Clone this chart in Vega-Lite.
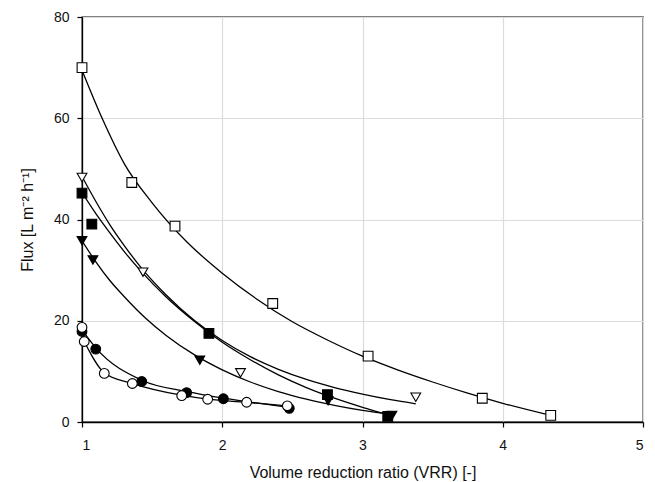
{
  "$schema": "https://vega.github.io/schema/vega-lite/v6.json",
  "width": 561,
  "height": 405,
  "autosize": {"type": "none"},
  "padding": {"left": 82, "top": 17, "right": 12, "bottom": 60},
  "background": "white",
  "config": {
    "view": {"stroke": "black", "strokeWidth": 1.3},
    "font": "Liberation Sans",
    "axis": {
      "domainColor": "black",
      "domainWidth": 1.3,
      "tickColor": "black",
      "tickSize": 5,
      "tickWidth": 1.2,
      "gridColor": "#dcdcdc",
      "gridWidth": 1.2,
      "labelFont": "Liberation Sans",
      "labelFontSize": 14,
      "labelColor": "#111",
      "titleFont": "Liberation Sans",
      "titleFontSize": 16,
      "titleFontWeight": "normal",
      "titleColor": "#111"
    }
  },
  "datasets": {
    "points": [
      {"series": "A", "vrr": 1.0, "flux": 70.0},
      {"series": "A", "vrr": 1.355, "flux": 47.3},
      {"series": "A", "vrr": 1.663, "flux": 38.7},
      {"series": "A", "vrr": 2.36, "flux": 23.4},
      {"series": "A", "vrr": 3.04, "flux": 13.0},
      {"series": "A", "vrr": 3.854, "flux": 4.7},
      {"series": "A", "vrr": 4.342, "flux": 1.3},
      {"series": "B", "vrr": 1.0, "flux": 48.3},
      {"series": "B", "vrr": 1.435, "flux": 29.6},
      {"series": "B", "vrr": 2.13, "flux": 9.7},
      {"series": "B", "vrr": 3.38, "flux": 4.9},
      {"series": "C", "vrr": 1.0, "flux": 45.2},
      {"series": "C", "vrr": 1.07, "flux": 39.1},
      {"series": "C", "vrr": 1.905, "flux": 17.5},
      {"series": "C", "vrr": 2.75, "flux": 5.4},
      {"series": "C", "vrr": 3.18, "flux": 1.1},
      {"series": "D", "vrr": 1.0, "flux": 35.8},
      {"series": "D", "vrr": 1.078, "flux": 32.0},
      {"series": "D", "vrr": 1.84, "flux": 12.2},
      {"series": "D", "vrr": 2.755, "flux": 4.2},
      {"series": "D", "vrr": 3.21, "flux": 1.3},
      {"series": "E", "vrr": 1.0, "flux": 17.9},
      {"series": "E", "vrr": 1.098, "flux": 14.4},
      {"series": "E", "vrr": 1.426, "flux": 8.0},
      {"series": "E", "vrr": 1.746, "flux": 5.8},
      {"series": "E", "vrr": 2.008, "flux": 4.6},
      {"series": "E", "vrr": 2.478, "flux": 2.7},
      {"series": "F", "vrr": 1.0, "flux": 18.7},
      {"series": "F", "vrr": 1.016, "flux": 15.9},
      {"series": "F", "vrr": 1.159, "flux": 9.6},
      {"series": "F", "vrr": 1.359, "flux": 7.6},
      {"series": "F", "vrr": 1.711, "flux": 5.2},
      {"series": "F", "vrr": 1.896, "flux": 4.5},
      {"series": "F", "vrr": 2.174, "flux": 3.9},
      {"series": "F", "vrr": 2.464, "flux": 3.2}
    ],
    "curves": [
      {"series": "A", "vrr": 1.0, "flux": 69.5},
      {"series": "A", "vrr": 1.15, "flux": 59.6},
      {"series": "A", "vrr": 1.3, "flux": 51.1},
      {"series": "A", "vrr": 1.5, "flux": 43.3},
      {"series": "A", "vrr": 1.75, "flux": 35.5},
      {"series": "A", "vrr": 2.0, "flux": 29.4},
      {"series": "A", "vrr": 2.25, "flux": 24.2},
      {"series": "A", "vrr": 2.5, "flux": 19.8},
      {"series": "A", "vrr": 2.75, "flux": 16.2},
      {"series": "A", "vrr": 3.0, "flux": 13.0},
      {"series": "A", "vrr": 3.25, "flux": 10.3},
      {"series": "A", "vrr": 3.5, "flux": 7.9},
      {"series": "A", "vrr": 3.75, "flux": 5.7},
      {"series": "A", "vrr": 4.0, "flux": 3.7},
      {"series": "A", "vrr": 4.342, "flux": 1.3},
      {"series": "B", "vrr": 1.0, "flux": 48.5},
      {"series": "B", "vrr": 1.1, "flux": 43.5},
      {"series": "B", "vrr": 1.2, "flux": 38.9},
      {"series": "B", "vrr": 1.3, "flux": 34.9},
      {"series": "B", "vrr": 1.43, "flux": 30.2},
      {"series": "B", "vrr": 1.6, "flux": 25.1},
      {"series": "B", "vrr": 1.8, "flux": 20.1},
      {"series": "B", "vrr": 2.0, "flux": 16.1},
      {"series": "B", "vrr": 2.2, "flux": 12.9},
      {"series": "B", "vrr": 2.4, "flux": 10.4},
      {"series": "B", "vrr": 2.6, "flux": 8.4},
      {"series": "B", "vrr": 2.8, "flux": 6.8},
      {"series": "B", "vrr": 3.0, "flux": 5.5},
      {"series": "B", "vrr": 3.2, "flux": 4.4},
      {"series": "B", "vrr": 3.38, "flux": 3.6},
      {"series": "C", "vrr": 1.0, "flux": 45.3},
      {"series": "C", "vrr": 1.1, "flux": 41.1},
      {"series": "C", "vrr": 1.2, "flux": 37.3},
      {"series": "C", "vrr": 1.3, "flux": 33.7},
      {"series": "C", "vrr": 1.43, "flux": 29.5},
      {"series": "C", "vrr": 1.6, "flux": 24.7},
      {"series": "C", "vrr": 1.8, "flux": 19.9},
      {"series": "C", "vrr": 2.0, "flux": 15.75},
      {"series": "C", "vrr": 2.2, "flux": 12.3},
      {"series": "C", "vrr": 2.4, "flux": 9.3},
      {"series": "C", "vrr": 2.6, "flux": 6.8},
      {"series": "C", "vrr": 2.8, "flux": 4.7},
      {"series": "C", "vrr": 3.0, "flux": 2.9},
      {"series": "C", "vrr": 3.2, "flux": 1.3},
      {"series": "D", "vrr": 1.0, "flux": 35.8},
      {"series": "D", "vrr": 1.1, "flux": 31.6},
      {"series": "D", "vrr": 1.2, "flux": 27.9},
      {"series": "D", "vrr": 1.3, "flux": 24.8},
      {"series": "D", "vrr": 1.45, "flux": 20.6},
      {"series": "D", "vrr": 1.6, "flux": 17.1},
      {"series": "D", "vrr": 1.8, "flux": 13.3},
      {"series": "D", "vrr": 2.0, "flux": 10.3},
      {"series": "D", "vrr": 2.2, "flux": 7.9},
      {"series": "D", "vrr": 2.4, "flux": 6.0},
      {"series": "D", "vrr": 2.6, "flux": 4.5},
      {"series": "D", "vrr": 2.8, "flux": 3.3},
      {"series": "D", "vrr": 3.0, "flux": 2.3},
      {"series": "D", "vrr": 3.2, "flux": 1.5},
      {"series": "E", "vrr": 1.0, "flux": 18.2},
      {"series": "E", "vrr": 1.1, "flux": 14.6},
      {"series": "E", "vrr": 1.43, "flux": 8.2},
      {"series": "E", "vrr": 1.75, "flux": 6.0},
      {"series": "E", "vrr": 2.01, "flux": 4.7},
      {"series": "E", "vrr": 2.48, "flux": 2.9},
      {"series": "F", "vrr": 1.016, "flux": 15.9},
      {"series": "F", "vrr": 1.16, "flux": 9.7},
      {"series": "F", "vrr": 1.36, "flux": 7.6},
      {"series": "F", "vrr": 1.71, "flux": 5.3},
      {"series": "F", "vrr": 1.9, "flux": 4.5},
      {"series": "F", "vrr": 2.17, "flux": 3.9},
      {"series": "F", "vrr": 2.46, "flux": 3.2}
    ]
  },
  "encoding": {
    "x": {
      "field": "vrr", "type": "quantitative",
      "scale": {"domain": [1, 5], "nice": false, "zero": false},
      "axis": {"values": [1, 2, 3, 4, 5], "format": "d", "title": "Volume reduction ratio (VRR) [-]", "labelPadding": 11, "titlePadding": 12}
    },
    "y": {
      "field": "flux", "type": "quantitative",
      "scale": {"domain": [0, 80], "nice": false},
      "axis": {"values": [0, 20, 40, 60, 80], "title": "Flux [L m⁻² h⁻¹]", "labelPadding": 8, "titlePadding": 18}
    }
  },
  "layer": [
    {
      "data": {"name": "curves"},
      "mark": {"type": "line", "interpolate": "monotone", "color": "black", "strokeWidth": 1.3, "clip": true},
      "encoding": {"detail": {"field": "series"}}
    },
    {
      "data": {"name": "points"},
      "mark": {"type": "point", "filled": false, "stroke": "black", "strokeWidth": 1.1, "size": 95, "opacity": 1},
      "encoding": {
        "shape": {
          "field": "series", "type": "nominal", "legend": null,
          "scale": {"domain": ["A", "B", "C", "D", "E", "F"], "range": ["square", "triangle-down", "square", "triangle-down", "circle", "circle"]}
        },
        "fill": {
          "field": "series", "type": "nominal", "legend": null,
          "scale": {"domain": ["A", "B", "C", "D", "E", "F"], "range": ["white", "white", "black", "black", "black", "white"]}
        }
      }
    }
  ]
}
